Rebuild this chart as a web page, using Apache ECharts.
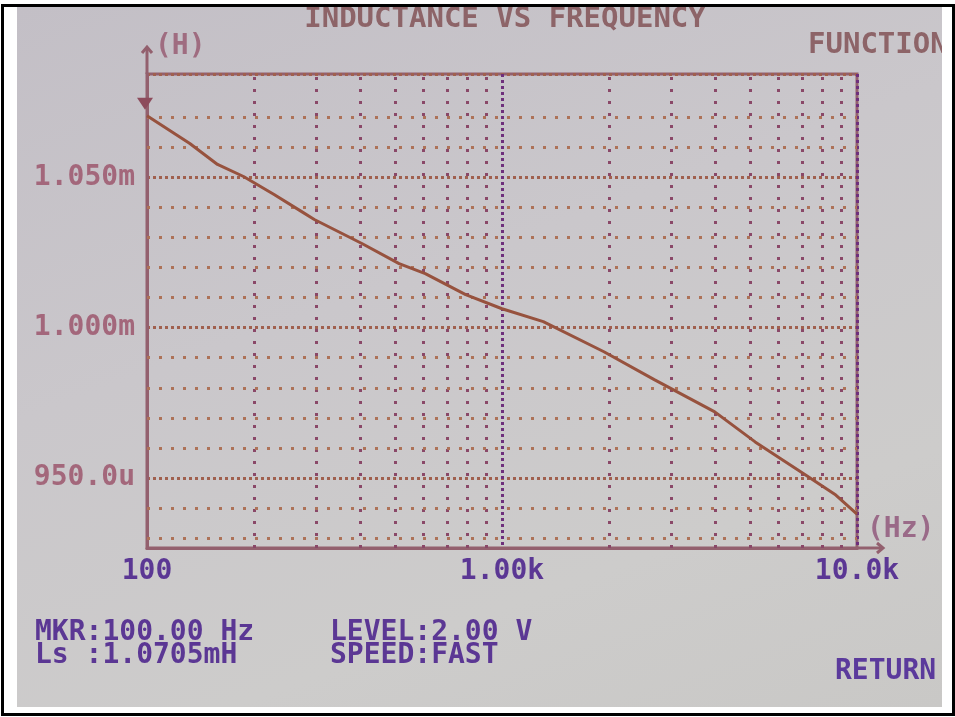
<!DOCTYPE html>
<html>
<head>
<meta charset="utf-8">
<script src="https://cdn.jsdelivr.net/npm/echarts@6/dist/echarts.min.js"></script>
<style>
body{margin:0;background:#fff;}
.frame{position:absolute;left:1px;top:4px;width:948px;height:706px;border:3px solid #000;}
.screen{position:absolute;left:17px;top:7px;width:925px;height:700px;overflow:hidden;
  background:linear-gradient(160deg,#c3bfc6 0%,#cac7cb 40%,#cdcccb 75%,#c9c8c6 100%);}
#chart{width:925px;height:700px;}
</style>
</head>
<body>
<div class="frame"></div>
<div class="screen"><div id="chart"></div></div>
<script>
// sweep: frequency (Hz) vs Ls (mH)
var freq = [100, 132, 158, 187, 228, 272, 296, 403, 513, 608, 790, 1000, 1307, 1937, 2685, 3975, 5165, 7165, 8717, 10000];
var ls   = [1.0705, 1.0613, 1.0543, 1.0503, 1.0443, 1.0387, 1.036, 1.028, 1.0213, 1.018, 1.011, 1.0063, 1.002, 0.992, 0.9827, 0.972, 0.962, 0.951, 0.9443, 0.938];
// screen grid
var vGrid = [200, 300, 400, 500, 600, 700, 800, 900, 2000, 3000, 4000, 5000, 6000, 7000, 8000, 9000];
var hGrid = [0.931, 0.9417, 0.9611, 0.9721, 0.9823, 0.993, 1.0109, 1.0216, 1.0325, 1.0435, 1.061, 1.0725];
var yMin = 0.9267, yMax = 1.0844;

var mono = '"DejaVu Sans Mono", monospace';
var frameCol = '#93606e';

var chart = echarts.init(document.getElementById('chart'));

var pts = freq.map(function (f, i) { return [f, ls[i]]; });

function txt(x, y, s, col, align, size) {
  return {
    type: 'text', x: x, y: y, silent: true,
    style: { text: s, fill: col, font: 'bold ' + (size || 28) + 'px ' + mono, align: align || 'left', verticalAlign: 'middle' }
  };
}

var option = {
  animation: false,
  grid: { left: 130, right: 85, top: 67, bottom: 159, show: true, borderColor: frameCol, borderWidth: 3 },
  xAxis: {
    type: 'log', logBase: 10, min: 100, max: 10000,
    axisLine: { show: true, lineStyle: { color: frameCol, width: 3 } },
    axisTick: { show: false },
    axisLabel: {
      margin: 10, color: '#5b3794', fontFamily: mono, fontSize: 28, fontWeight: 'bold',
      formatter: function (v) {
        if (v === 100) return '100';
        if (v === 1000) return '1.00k';
        if (v === 10000) return '10.0k';
        return '';
      }
    },
    splitLine: { show: true, lineStyle: { color: '#6e2f7c', width: 3, type: [3, 3] } }
  },
  yAxis: {
    type: 'value', min: yMin, max: yMax, splitNumber: 3,
    axisLine: { show: true, lineStyle: { color: frameCol, width: 3 } },
    axisTick: { show: false },
    axisLabel: {
      margin: 12, color: '#a3677b', fontFamily: mono, fontSize: 28, fontWeight: 'bold',
      showMinLabel: false, showMaxLabel: false,
      formatter: function (v) {
        return v >= 1 ? v.toFixed(3) + 'm' : (v * 1000).toFixed(1) + 'u';
      }
    },
    splitLine: { show: true, lineStyle: { color: '#a0604e', width: 3, type: [3, 3] } }
  },
  series: [
    {
      type: 'line', data: pts, showSymbol: false, silent: true,
      lineStyle: { color: '#97523e', width: 3 },
      z: 5,
      markPoint: {
        silent: true,
        symbol: 'triangle', symbolRotate: 180, symbolSize: [16, 12], symbolOffset: [-2, -12],
        itemStyle: { color: '#8d4b5c' },
        label: { show: false },
        data: [{ coord: pts[0] }]
      }
    },
    {
      type: 'line', data: [], silent: true,
      markLine: {
        silent: true, symbol: 'none', label: { show: false },
        lineStyle: { color: '#8a4868', width: 3, type: [3, 9] },
        data: vGrid.map(function (f) { return { xAxis: f }; })
      }
    },
    {
      type: 'line', data: [], silent: true,
      markLine: {
        silent: true, symbol: 'none', label: { show: false },
        lineStyle: { color: '#ad7258', width: 3, type: [3, 9] },
        data: hGrid.map(function (v) { return { yAxis: v }; })
      }
    }
  ],
  graphic: [
    // axis stubs with arrows
    { type: 'line', silent: true, shape: { x1: 130, y1: 67, x2: 130, y2: 40 }, style: { stroke: frameCol, lineWidth: 3 } },
    { type: 'polyline', silent: true, shape: { points: [[125, 46], [130, 40], [135, 46]] }, style: { stroke: frameCol, lineWidth: 3, fill: null } },
    { type: 'line', silent: true, shape: { x1: 840, y1: 541, x2: 866, y2: 541 }, style: { stroke: frameCol, lineWidth: 3 } },
    { type: 'polyline', silent: true, shape: { points: [[860, 536], [866, 541], [860, 546]] }, style: { stroke: frameCol, lineWidth: 3, fill: null } },
    txt(488, 12, 'INDUCTANCE VS FREQUENCY', '#8d6468', 'center', 29),
    txt(791, 38, 'FUNCTION', '#8d6468', 'left', 29),
    txt(138, 40, '(H)', '#9f6c80'),
    txt(850, 523, '(Hz)', '#9a6a88'),
    txt(18, 626, 'MKR:100.00 Hz', '#5b3794'),
    txt(18, 649, 'Ls :1.0705mH', '#5b3794'),
    txt(313, 626, 'LEVEL:2.00 V', '#5b3794'),
    txt(313, 649, 'SPEED:FAST', '#5b3794'),
    txt(818, 665, 'RETURN', '#5b3a9c')
  ]
};

chart.setOption(option);
</script>
</body>
</html>
